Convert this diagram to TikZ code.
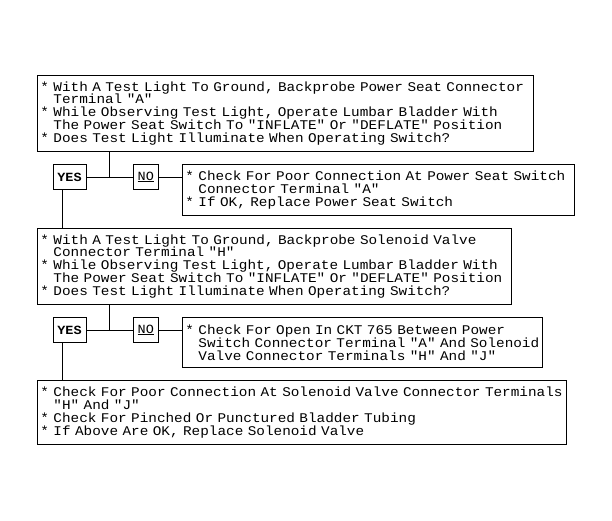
\documentclass[tikz,border=0pt]{standalone}
\usepackage{fontspec}
\newfontfamily\diagfont{Liberation Mono}[FakeStretch=1.08]
\usepackage{tikz}
\usetikzlibrary{positioning}
\usetikzlibrary{calc}
\tikzstyle{stepbox}=[rectangle,draw,line width=0.8pt,anchor=north west,align=left,inner xsep=3pt,inner ysep=0pt,font=\diagfont\fontsize{13.29}{12.9}\selectfont]
\tikzstyle{answer}=[rectangle,draw,line width=0.8pt,minimum height=25pt,inner sep=0pt,font=\diagfont\fontsize{12.5}{12.9}\selectfont]
\tikzstyle{undirectededge} = [draw,line width=0.8pt]
\newcommand{\cont}{\phantom{*}~}
\frenchspacing
\hyphenpenalty=10000

\begin{document}
\begin{tikzpicture}[x=1pt,y=-1pt]

 \useasboundingbox (0,0) rectangle (612,520);

 %Test 1
 \node[stepbox, text width=490pt, minimum height=76pt] (q1) at (37,75)
   {* With A Test Light To Ground, Backprobe Power Seat Connector\\
    \cont Terminal "A"\\
    {*} While Observing Test Light, Operate Lumbar Bladder With\\
    \cont The Power Seat Switch To "INFLATE" Or "DEFLATE" Position\\
    {*} Does Test Light Illuminate When Operating Switch?};

 \node[stepbox, text width=386pt, minimum height=51pt] (fix1) at (182,164)
   {* Check For Poor Connection At Power Seat Switch\\
    \cont Connector Terminal "A"\\
    {*} If OK, Replace Power Seat Switch};

 %Test 2
 \node[stepbox, text width=468pt, minimum height=76pt] (q2) at (37,228)
   {* With A Test Light To Ground, Backprobe Solenoid Valve\\
    \cont Connector Terminal "H"\\
    {*} While Observing Test Light, Operate Lumbar Bladder With\\
    \cont The Power Seat Switch To "INFLATE" Or "DEFLATE" Position\\
    {*} Does Test Light Illuminate When Operating Switch?};

 \node[stepbox, text width=354pt, minimum height=50pt] (fix2) at (182,317)
   {* Check For Open In CKT 765 Between Power\\
    \cont Switch Connector Terminal "A" And Solenoid\\
    \cont Valve Connector Terminals "H" And "J"};

 %Last
 \node[stepbox, text width=523pt, minimum height=64pt] (final) at (37,380)
   {* Check For Poor Connection At Solenoid Valve Connector Terminals\\
    \cont "H" And "J"\\
    {*} Check For Pinched Or Punctured Bladder Tubing\\
    {*} If Above Are OK, Replace Solenoid Valve};

 %YES / NO
 \foreach \i/\dy in {1/0, 2/153}
 {
   \node[answer, minimum width=33pt, font=\diagfont\fontsize{12.5}{12.9}\bfseries\selectfont] (yes\i) at (69.5,177+\dy) {YES};
   \node[answer, minimum width=25pt] (no\i) at (145.75,177+\dy) {\underline{NO}};
   \coordinate (j\i) at (109,177+\dy);
   \coordinate (d\i) at (62,177+\dy);
 }

 \foreach \q/\i/\f/\next in {q1/1/fix1/q2, q2/2/fix2/final}
 {
   \path[undirectededge] (\q.south -| j\i) -- (j\i);
   \path[undirectededge] (yes\i) -- (no\i);
   \path[undirectededge] (no\i.east) -- (no\i.east -| \f.west);
   \path[undirectededge] (yes\i.south -| d\i) -- (\next.north -| d\i);
 }

\end{tikzpicture}
\end{document}
